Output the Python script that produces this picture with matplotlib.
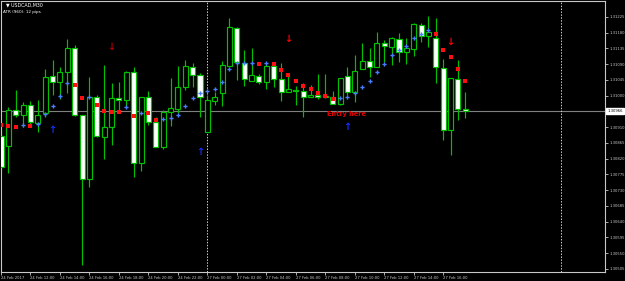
import matplotlib
matplotlib.use("Agg")
import matplotlib.pyplot as plt

# USDCAD M30 candles, 24 Feb 10:00 -> 27 Feb 17:30
opens = [1.30885, 1.30856, 1.30959, 1.30945, 1.30974, 1.30922, 1.30951, 1.31056,
         1.31039, 1.31068, 1.31136, 1.30945, 1.30762, 1.30996, 1.30882, 1.30911,
         1.30994, 1.30988, 1.31068, 1.30808, 1.30996, 1.30925, 1.30854, 1.30954,
         1.30962, 1.31025, 1.31082, 1.31059, 1.30896, 1.30985, 1.31008, 1.31085,
         1.31194, 1.31094, 1.31042, 1.31056, 1.31039, 1.31085, 1.31048, 1.31011,
         1.31016, 1.31014, 1.30996, 1.31002, 1.30996, 1.30996, 1.30976, 1.31056,
         1.31011, 1.31076, 1.31099, 1.31082, 1.31151, 1.31139, 1.31162, 1.31125,
         1.31134, 1.31202, 1.31171, 1.31165, 1.31079, 1.30902, 1.31048, 1.30962]
highs = [1.30902, 1.30968, 1.31016, 1.30982, 1.30985, 1.30988, 1.31076, 1.31102,
         1.31082, 1.31162, 1.31145, 1.30945, 1.31054, 1.31002, 1.31088, 1.31036,
         1.31039, 1.31071, 1.31082, 1.30996, 1.31014, 1.30939, 1.30959, 1.31051,
         1.31085, 1.31102, 1.31094, 1.31065, 1.31002, 1.31011, 1.31099, 1.31222,
         1.31196, 1.31131, 1.31136, 1.31062, 1.31094, 1.31088, 1.31094, 1.31059,
         1.31028, 1.31036, 1.31031, 1.31062, 1.31062, 1.31014, 1.31051, 1.31082,
         1.31116, 1.31151, 1.31136, 1.31182, 1.31159, 1.31168, 1.31179, 1.31165,
         1.31208, 1.31208, 1.31228, 1.31222, 1.31105, 1.31051, 1.31102, 1.31011]
lows = [1.30788, 1.30779, 1.30939, 1.30911, 1.30911, 1.30896, 1.30939, 1.31002,
        1.30991, 1.31008, 1.30942, 1.30516, 1.30739, 1.30882, 1.30819, 1.30859,
        1.30951, 1.30971, 1.30768, 1.30785, 1.30916, 1.30854, 1.30848, 1.30914,
        1.30951, 1.31016, 1.31025, 1.30939, 1.30896, 1.30974, 1.30971, 1.31085,
        1.31045, 1.31028, 1.31042, 1.31034, 1.31019, 1.31025, 1.30985, 1.31011,
        1.30974, 1.30939, 1.30996, 1.30991, 1.30994, 1.30976, 1.30974, 1.31002,
        1.30982, 1.31076, 1.31054, 1.31082, 1.31096, 1.31088, 1.31096, 1.31091,
        1.31114, 1.31154, 1.31139, 1.31036, 1.30874, 1.30831, 1.30931, 1.30936]
closes = [1.30796, 1.30959, 1.30945, 1.30974, 1.30925, 1.30945, 1.31054, 1.31039,
          1.31068, 1.31136, 1.30945, 1.30762, 1.30996, 1.30885, 1.30911, 1.30994,
          1.30988, 1.31068, 1.30808, 1.30996, 1.30925, 1.30854, 1.30954, 1.30965,
          1.31025, 1.31085, 1.31059, 1.30996, 1.30988, 1.30996, 1.31088, 1.31196,
          1.31096, 1.31048, 1.31059, 1.31039, 1.31085, 1.31048, 1.31011, 1.31019,
          1.31014, 1.30996, 1.31002, 1.30996, 1.30999, 1.30976, 1.31051, 1.31011,
          1.31071, 1.31099, 1.31082, 1.31151, 1.31142, 1.31165, 1.31125, 1.31136,
          1.31205, 1.31171, 1.31182, 1.31082, 1.30902, 1.31051, 1.30962, 1.30956]

# trailing-stop dots (one per bar), 'r' = red, 'b' = blue
dot_prices = [1.30916, 1.30914, 1.30911, 1.30916, 1.30914, 1.30919, 1.30948, 1.30971,
              1.30999, 1.31036, 1.31031, 1.30994, 1.30996, 1.30974, 1.30956, 1.30954,
              1.30954, 1.30968, 1.30942, 1.30951, 1.30951, 1.30931, 1.30934, 1.30936,
              1.30945, 1.30971, 1.30994, 1.31008, 1.31014, 1.31019, 1.31039, 1.31076,
              1.31094, 1.31094, 1.31094, 1.31091, 1.31094, 1.31091, 1.31074, 1.31059,
              1.31042, 1.31028, 1.31019, 1.31008, 1.30999, 1.30991, 1.30994, 1.30996,
              1.31008, 1.31025, 1.31042, 1.31068, 1.31091, 1.31116, 1.31131, 1.31142,
              1.31165, 1.31176, 1.31188, 1.31176, 1.31131, 1.31111, 1.31076, 1.31042]
dot_sides = "rrrbrbbbbbrrbrrrrbrbrrbbbbbbbbbbbbbrbrrrrrrrrrbbbbbbbbbbbbbrrrrr"

# signal arrows
sell_bars = [15, 39, 61]
sell_prices = [1.31139, 1.31162, 1.31154]
sell_colors = ["#b00000", "#ff0000", "#ff0000"]
buy_bars = [7, 27, 47]
buy_prices = [1.30902, 1.30839, 1.30911]

bid = 1.30956
bid_label = "1.30966"
y_ticks = [1.31225, 1.31180, 1.31135, 1.31090, 1.31045, 1.31000, 1.30910, 1.30865,
           1.30820, 1.30775, 1.30730, 1.30685, 1.30640, 1.30595, 1.30550, 1.30505]
x_tick_bars = list(range(0, 64, 4))
x_tick_labels = ["24 Feb 2017", "24 Feb 12:00", "24 Feb 14:00", "24 Feb 16:00",
                 "24 Feb 18:00", "24 Feb 20:00", "24 Feb 22:00", "27 Feb 00:00",
                 "27 Feb 02:00", "27 Feb 04:00", "27 Feb 06:00", "27 Feb 08:00",
                 "27 Feb 10:00", "27 Feb 12:00", "27 Feb 14:00", "27 Feb 16:00"]
separators = [28, 76]

green = "#00c000"
axis_col = "#c8c8c8"

fig = plt.figure(figsize=(6.25, 2.81), dpi=100, facecolor="black")
ax = fig.add_axes([1 / 625, 9 / 281, 604 / 625, 271 / 281], facecolor="black")

n = len(opens)
xs = list(range(n))
ax.vlines(xs, lows, highs, color=green, linewidth=0.85, zorder=2)
for i in xs:
    o, c = opens[i], closes[i]
    bottom = min(o, c)
    h = max(abs(c - o), 0.000012)
    fc = "black" if c > o else "white"
    ax.bar(i, h, bottom=bottom, width=0.68, facecolor=fc, edgecolor=green,
           linewidth=0.85, zorder=3)

for i in xs:
    if dot_sides[i] == "r":
        ax.plot(i, dot_prices[i], marker="s", ms=2.6, color="#ff1010", mew=0, zorder=4)
    else:
        ax.plot(i, dot_prices[i], marker="P", ms=3.0, color="#4a7cff", mew=0, zorder=4)

for b, p, col in zip(sell_bars, sell_prices, sell_colors):
    ax.text(b, p, "↓", color=col, fontsize=7, fontweight="bold",
            ha="center", va="center", zorder=5)
for b, p in zip(buy_bars, buy_prices):
    ax.text(b, p, "↑", color="#1030ff", fontsize=7, fontweight="bold",
            ha="center", va="center", zorder=5)

ax.text(46.9, 1.30948, "Entry here", color="#e00000", fontsize=4.8,
        fontweight="bold", ha="center", va="center", zorder=6)

ax.axhline(bid, color="#808080", linewidth=0.8, zorder=1)
for s in separators:
    ax.axvline(s, color="#d0d0d0", linewidth=0.7, linestyle=(0, (1.5, 1.5)), zorder=1)

ax.set_xlim(0, 81.95)
ax.set_ylim(1.304964, 1.312707)

ax.yaxis.tick_right()
ax.set_yticks(y_ticks)
ax.set_yticklabels([f"{v:.5f}" for v in y_ticks])
ax.set_xticks(x_tick_bars)
ax.set_xticklabels(x_tick_labels, ha="left")
ax.tick_params(axis="y", colors=axis_col, labelsize=2.7, length=2.2, width=0.6, pad=0.8)
ax.tick_params(axis="x", colors=axis_col, labelsize=2.7, length=2.2, width=0.6, pad=0.8)
for sp in ax.spines.values():
    sp.set_color(axis_col)
    sp.set_linewidth(0.8)

ax.annotate(bid_label, xy=(1.004, bid), xycoords=("axes fraction", "data"),
            fontsize=2.7, color="black", ha="left", va="center", annotation_clip=False,
            bbox=dict(boxstyle="square,pad=0.3", fc="white", ec="white"))

fig.text(6 / 625, 1 - 5 / 281, "▼ USDCAD,M30", color="white", fontsize=3.4,
         ha="left", va="center")
fig.text(3 / 625, 1 - 12 / 281, "ATR (960): 12 pips", color="white", fontsize=3.0,
         ha="left", va="center")

fig.savefig("out.png", dpi=100, facecolor="black")
